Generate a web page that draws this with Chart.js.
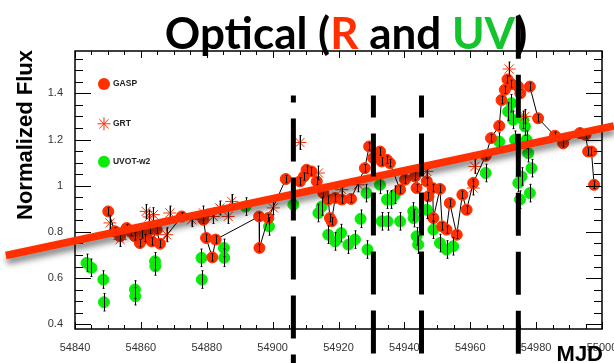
<!DOCTYPE html>
<html>
<head>
<meta charset="utf-8">
<script src="https://cdn.jsdelivr.net/npm/chart.js@4.4.1/dist/chart.umd.min.js"></script>
<style>
  body { margin: 0; background: #fff; }
  #wrap { width: 614px; height: 363px; }
</style>
</head>
<body>
<div id="wrap"><canvas id="lightCurve" width="614" height="363"></canvas></div>
<script>
// GASP optical R band
const gaspMjd = [
  54850.1, 54852.1, 54853.7, 54855.7, 54857.0, 54858.2, 54859.7, 54860.3, 54861.3, 54862.8,
  54863.3, 54864.8, 54865.8, 54872.4, 54879.0, 54879.8, 54881.7, 54882.7, 54895.9, 54896.0,
  54898.7, 54904.0, 54908.3, 54909.5, 54910.3, 54911.8, 54913.4, 54915.4, 54916.9, 54917.4,
  54917.9, 54919.0, 54921.0, 54923.8, 54928.0, 54929.3, 54930.5, 54932.6, 54933.1, 54934.7,
  54935.6, 54938.7, 54940.2, 54943.2, 54943.7, 54946.8, 54947.3, 54948.6, 54948.8, 54950.8,
  54951.5, 54952.8, 54953.8, 54955.9, 54957.6, 54958.9, 54960.9, 54964.7, 54966.3, 54968.8,
  54969.5, 54970.5, 54971.3, 54972.5, 54974.5, 54975.2, 54978.1, 54980.6, 54985.7, 54988.2,
  54993.3, 54995.0, 54995.8, 54996.8, 54997.6
];
const gaspFlux = [
  0.889, 0.803, 0.781, 0.817, 0.800, 0.781, 0.752, 0.790, 0.774, 0.810,
  0.759, 0.810, 0.749, 0.867, 0.853, 0.774, 0.690, 0.767, 0.867, 0.731,
  0.860, 1.029, 1.019, 1.040, 1.069, 1.062, 1.019, 0.968, 0.940, 0.860,
  0.846, 0.947, 0.940, 0.943, 1.076, 1.170, 1.120, 1.148, 1.105, 1.112,
  1.098, 0.983, 1.026, 1.040, 0.990, 1.019, 0.954, 0.990, 0.860, 0.986,
  0.824, 0.810, 0.925, 0.788, 0.961, 0.896, 1.012, 1.130, 1.206, 1.259,
  1.371, 1.415, 1.460, 1.440, 1.430, 1.400, 1.429, 1.292, 1.216, 1.184,
  1.228, 1.220, 1.148, 1.148, 1.004
];

// GRT optical R band
const grtMjd = [
  54850.6, 54853.7, 54861.6, 54862.5, 54863.8, 54867.8, 54868.8, 54875.4, 54879.0, 54882.0,
  54884.0, 54886.5, 54887.6, 54900.2, 54908.3, 54913.9, 54921.0, 54926.0, 54946.8, 54960.9,
  54961.4, 54971.8, 54976.6
];
const grtFlux = [
  0.839, 0.767, 0.889, 0.865, 0.875, 0.788, 0.882, 0.853, 0.882, 0.867,
  0.904, 0.867, 0.932, 0.904, 1.187, 1.055, 0.983, 1.004, 1.062, 0.990,
  1.083, 1.505, 1.300
];

// Swift UVOT w2 filter
const uvotMjd = [
  54843.5, 54845.0, 54848.6, 54848.8, 54858.2, 54858.3, 54864.3, 54864.4, 54878.4, 54878.5,
  54885.2, 54885.3, 54891.8, 54898.9, 54906.3, 54913.9, 54914.9, 54916.9, 54919.0, 54920.8,
  54923.0, 54925.0, 54926.7, 54928.5, 54928.8, 54932.6, 54933.1, 54934.7, 54934.9, 54936.0,
  54937.1, 54938.7, 54942.7, 54942.8, 54943.7, 54944.2, 54946.8, 54948.8, 54950.8, 54952.8,
  54954.8, 54964.7, 54968.8, 54971.5, 54972.5, 54973.0, 54973.6, 54974.6, 54975.1, 54975.6,
  54976.1, 54976.6, 54977.1, 54977.6, 54978.1, 54978.6
];
const uvotFlux = [
  0.666, 0.645, 0.594, 0.496, 0.551, 0.522, 0.673, 0.651, 0.688, 0.594,
  0.731, 0.688, 0.910, 0.824, 0.918, 0.882, 0.910, 0.788, 0.759, 0.795,
  0.745, 0.767, 0.857, 0.968, 0.724, 1.004, 0.846, 0.940, 0.846, 0.940,
  0.961, 0.846, 0.889, 0.860, 0.781, 0.745, 0.896, 0.810, 0.752, 0.724,
  0.738, 1.055, 1.191, 1.321, 1.357, 1.285, 1.199, 1.012, 0.940, 1.040,
  1.285, 1.256, 1.199, 1.141, 0.968, 1.076
];

// typical 1-sigma errors per instrument
const gaspErr = 0.016;
const grtErr = 0.03;
const uvotErr = 0.038;

// linear trend drawn across the whole panel
const trendMjd = [54819.0, 55003.6];
const trendFlux = [0.698, 1.259];

// dashed flare markers: epoch and upper end (flux units)
const markerMjd = [54906.3, 54930.6, 54945.2, 54974.6];
const markerTop = [1.39, 1.39, 1.39, 1.735];

// legend anchor (MJD) and row heights (flux)
const legendNames = ['GASP', 'GRT', 'UVOT-w2'];
const legendMjd = 54848.8;
const legendFlux = [1.44, 1.268, 1.104];

const RED = '#ff2f00';
const GREEN = '#08ec08';

const pts = (xs, ys) => xs.map((x, i) => ({ x: x, y: ys[i] }));

const decor = {
  id: 'decor',
  afterDatasetsDraw(chart) {
    const ctx = chart.ctx;
    const a = chart.chartArea;
    const sx = chart.scales.x, sy = chart.scales.y;

    // error bars
    ctx.save();
    ctx.beginPath();
    ctx.rect(a.left, a.top, a.right - a.left, a.bottom - a.top);
    ctx.clip();
    ctx.strokeStyle = '#000';
    ctx.lineWidth = 1;
    [[gaspMjd, gaspFlux, gaspErr], [grtMjd, grtFlux, grtErr], [uvotMjd, uvotFlux, uvotErr]].forEach(([xs, ys, e]) => {
      xs.forEach((x, i) => {
        const px = Math.round(sx.getPixelForValue(x)) + 0.5;
        const y0 = sy.getPixelForValue(ys[i] - e), y1 = sy.getPixelForValue(ys[i] + e);
        ctx.beginPath();
        ctx.moveTo(px, y0); ctx.lineTo(px, y1);
        ctx.moveTo(px - 1, y0); ctx.lineTo(px + 1, y0);
        ctx.moveTo(px - 1, y1); ctx.lineTo(px + 1, y1);
        ctx.stroke();
      });
    });
    ctx.restore();

    // frame with inward ticks
    ctx.save();
    ctx.strokeStyle = '#000';
    ctx.lineWidth = 1.5;
    ctx.strokeRect(a.left, a.top, a.right - a.left, a.bottom - a.top);
    ctx.lineWidth = 1;
    ctx.beginPath();
    for (let k = Math.ceil(sx.min / 5); k <= Math.floor(sx.max / 5); k++) {
      const v = k * 5;
      const px = Math.round(sx.getPixelForValue(v)) + 0.5;
      const len = v % 20 === 0 ? 7 : 4;
      ctx.moveTo(px, a.bottom); ctx.lineTo(px, a.bottom - len);
      ctx.moveTo(px, a.top); ctx.lineTo(px, a.top + len);
    }
    for (let k = Math.ceil(sy.min * 20); k <= Math.floor(sy.max * 20); k++) {
      const py = Math.round(sy.getPixelForValue(k / 20)) + 0.5;
      const len = k % 4 === 0 ? 16 : 8;
      ctx.moveTo(a.left, py); ctx.lineTo(a.left + len, py);
      ctx.moveTo(a.right, py); ctx.lineTo(a.right - len, py);
    }
    ctx.stroke();
    ctx.restore();

    // trend line with drop shadow
    ctx.save();
    ctx.strokeStyle = RED;
    ctx.lineWidth = 7.5;
    ctx.shadowColor = 'rgba(0,0,0,0.5)';
    ctx.shadowBlur = 6;
    ctx.shadowOffsetX = 1;
    ctx.shadowOffsetY = 5;
    ctx.beginPath();
    ctx.moveTo(sx.getPixelForValue(trendMjd[0]), sy.getPixelForValue(trendFlux[0]));
    ctx.lineTo(sx.getPixelForValue(trendMjd[1]), sy.getPixelForValue(trendFlux[1]));
    ctx.stroke();
    ctx.restore();

    // dashed flare markers
    const phase = [36, 21, 21, 0];
    ctx.save();
    ctx.strokeStyle = '#000';
    ctx.lineWidth = 5;
    ctx.setLineDash([43, 16]);
    markerMjd.forEach((m, i) => {
      const px = sx.getPixelForValue(m);
      ctx.lineDashOffset = phase[i];
      ctx.beginPath();
      ctx.moveTo(px, sy.getPixelForValue(markerTop[i]));
      ctx.lineTo(px, chart.height);
      ctx.stroke();
    });
    ctx.restore();

    // legend inside the frame
    ctx.save();
    const lx = sx.getPixelForValue(legendMjd);
    ctx.font = 'bold 8.5px "Liberation Sans", Arial, sans-serif';
    ctx.textBaseline = 'middle';
    ctx.fillStyle = '#222';
    legendFlux.forEach((f, i) => {
      const ly = sy.getPixelForValue(f);
      ctx.save();
      if (i === 1) {
        ctx.strokeStyle = RED;
        ctx.lineWidth = 1;
        Chart.helpers.drawPoint(ctx, { pointStyle: 'star', radius: 6.5, borderWidth: 1 }, lx, ly);
      } else {
        ctx.fillStyle = i === 0 ? RED : GREEN;
        ctx.beginPath();
        ctx.arc(lx, ly, 6, 0, Math.PI * 2);
        ctx.fill();
      }
      ctx.restore();
      ctx.fillText(legendNames[i], lx + 9, ly);
    });
    ctx.restore();
  },
  afterDraw(chart) {
    const ctx = chart.ctx;
    ctx.save();
    // title in mixed colours
    const parts = [['Optical (', '#000'], ['R', RED], [' and ', '#000'], ['UV', '#14c42c'], [')', '#000']];
    ctx.font = 'bold 44px Lato, "Open Sans", sans-serif';
    ctx.textBaseline = 'alphabetic';
    const total = parts.reduce((s, p) => s + ctx.measureText(p[0]).width, 0);
    let x = 346 - total / 2;
    parts.forEach(([t, c]) => {
      ctx.fillStyle = c;
      ctx.fillText(t, x, 49);
      x += ctx.measureText(t).width;
    });

    // axis titles
    ctx.fillStyle = '#000';
    ctx.font = 'bold 22px "Liberation Sans", Arial, sans-serif';
    ctx.textAlign = 'right';
    ctx.fillText('MJD', 603, 361);
    ctx.translate(32, 135);
    ctx.rotate(-Math.PI / 2);
    ctx.textAlign = 'center';
    ctx.fillText('Normalized Flux', 0, 0);
    ctx.restore();
  }
};

const tickFont = { family: '"Liberation Sans", Arial, sans-serif', size: 11 };

new Chart(document.getElementById('lightCurve'), {
  type: 'scatter',
  data: {
    datasets: [
      {
        label: 'GASP', data: pts(gaspMjd, gaspFlux), showLine: true,
        borderColor: '#000', borderWidth: 1, pointRadius: 5.5, pointBorderWidth: 1,
        pointBackgroundColor: RED, pointBorderColor: RED
      },
      {
        label: 'GRT', data: pts(grtMjd, grtFlux), pointStyle: 'star',
        pointRadius: 6.5, pointBorderWidth: 1, pointBorderColor: RED, pointBackgroundColor: RED
      },
      {
        label: 'UVOT-w2', data: pts(uvotMjd, uvotFlux), pointRadius: 5.5, pointBorderWidth: 1,
        pointBackgroundColor: GREEN, pointBorderColor: GREEN
      }
    ]
  },
  options: {
    responsive: false,
    animation: false,
    layout: { padding: { top: 51, right: 12, left: 0, bottom: 0 } },
    plugins: { legend: { display: false }, tooltip: { enabled: false } },
    scales: {
      x: {
        type: 'linear', min: 54840, max: 55000,
        ticks: { stepSize: 20, callback: v => String(v), font: tickFont, color: '#333', padding: 4, maxRotation: 0, autoSkip: false },
        grid: { display: false }, border: { display: false },
        afterFit(s) { s.height = 34; s.paddingLeft = 0; s.paddingRight = 0; }
      },
      y: {
        min: 0.38, max: 1.583,
        ticks: { stepSize: 0.2, includeBounds: false, callback: v => String(+v.toFixed(1)), font: tickFont, color: '#333', padding: 4 },
        grid: { display: false }, border: { display: false },
        afterFit(s) { s.width = 75; s.paddingTop = 0; s.paddingBottom = 0; }
      }
    }
  },
  plugins: [decor]
});
</script>
</body>
</html>
